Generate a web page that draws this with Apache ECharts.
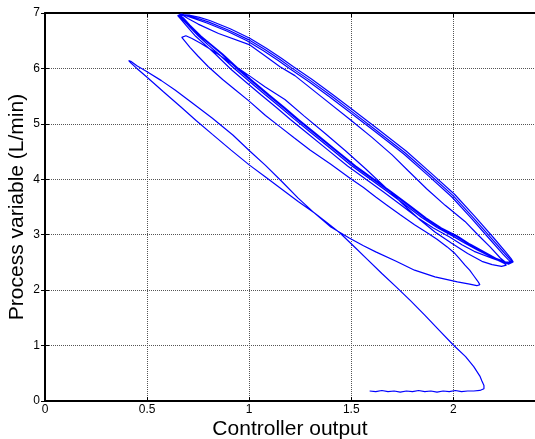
<!DOCTYPE html>
<html>
<head>
<meta charset="utf-8">
<script src="https://cdn.jsdelivr.net/npm/echarts@6/dist/echarts.min.js"></script>
<style>
  html, body { margin: 0; padding: 0; background: #fff; }
  #chart { width: 535px; height: 439px; }
</style>
</head>
<body>
<div id="chart"></div>
<script>
// Axis ticks and labels
const xTickValues = [0, 0.5, 1, 1.5, 2];
const xTickLabels = ['0', '0.5', '1', '1.5', '2'];
const yTickValues = [0, 1, 2, 3, 4, 5, 6, 7];
const yTickLabels = ['0', '1', '2', '3', '4', '5', '6', '7'];

// Trajectory pieces: [controller output, process variable (L/min)]
const startup = [[1.59,0.18],[1.62,0.17],[1.65,0.19],[1.68,0.17],[1.71,0.18],[1.74,0.16],[1.77,0.18],[1.80,0.17],[1.83,0.19],[1.86,0.17],[1.89,0.18],[1.92,0.16],[1.95,0.18],[1.98,0.17],[2.01,0.19],[2.04,0.17],[2.07,0.18],[2.10,0.18],[2.13,0.19],[2.15,0.22],[2.15,0.28]];

const firstRise = [[2.14,0.36],[2.13,0.45],[2.10,0.62],[2.06,0.80],[2.0,1.01],[1.93,1.28],[1.86,1.55],[1.79,1.81],[1.72,2.06],[1.65,2.30],[1.58,2.55],[1.51,2.80],[1.445,3.03],[1.38,3.22],[1.32,3.39],[1.24,3.60],[1.16,3.82],[1.08,4.04],[1.0,4.26],[0.91,4.53],[0.82,4.81],[0.74,5.06],[0.67,5.29],[0.58,5.58],[0.50,5.84],[0.45,6.0],[0.42,6.10],[0.41,6.14]];

const firstFall = [[0.42,6.13],[0.45,6.05],[0.50,5.94],[0.57,5.78],[0.637,5.61],[0.72,5.38],[0.82,5.10],[0.92,4.80],[1.0,4.52],[1.08,4.25],[1.16,3.96],[1.24,3.66],[1.32,3.39],[1.40,3.14],[1.49,2.94],[1.56,2.80],[1.62,2.69],[1.72,2.52],[1.81,2.36],[1.91,2.24],[2.02,2.15],[2.08,2.11],[2.115,2.08],[2.13,2.10]];

const secondRise = [[2.12,2.16],[2.10,2.26],[2.08,2.36],[2.057,2.45],[2.03,2.57],[2.008,2.66],[1.97,2.78],[1.92,2.92],[1.87,3.04],[1.81,3.18],[1.74,3.36],[1.68,3.52],[1.62,3.68],[1.56,3.85],[1.494,4.02],[1.40,4.27],[1.298,4.53],[1.22,4.75],[1.15,4.95],[1.08,5.15],[1.0,5.41],[0.93,5.62],[0.87,5.80],[0.80,6.03],[0.75,6.22],[0.71,6.38],[0.69,6.47],[0.67,6.56],[0.672,6.59]];

const secondFall = [[0.69,6.59],[0.72,6.54],[0.76,6.46],[0.80,6.37],[0.85,6.25],[0.92,6.07],[1.0,5.87],[1.077,5.67],[1.175,5.44],[1.27,5.14],[1.371,4.83],[1.47,4.52],[1.57,4.19],[1.66,3.88],[1.75,3.56],[1.836,3.27],[1.91,3.05],[1.99,2.85],[2.07,2.66],[2.14,2.52],[2.19,2.46],[2.236,2.43],[2.26,2.45]];

const cycleRise1 = [[2.25,2.48],[2.20,2.57],[2.12,2.72],[2.05,2.86],[2.0,2.97],[1.92,3.13],[1.845,3.31],[1.76,3.55],[1.673,3.79],[1.59,4.01],[1.50,4.25],[1.40,4.55],[1.30,4.85],[1.22,5.09],[1.15,5.31],[1.077,5.53],[1.0,5.77],[0.93,5.99],[0.85,6.26],[0.80,6.42],[0.75,6.59],[0.70,6.78],[0.67,6.90],[0.655,6.96],[0.665,6.98]];
const cycleFall1 = [[0.70,6.90],[0.75,6.80],[0.85,6.63],[1.0,6.43],[1.077,6.23],[1.151,6.03],[1.224,5.87],[1.35,5.50],[1.494,5.08],[1.60,4.76],[1.70,4.44],[1.78,4.15],[1.869,3.83],[1.96,3.53],[2.057,3.24],[2.12,3.0],[2.18,2.78],[2.23,2.58],[2.26,2.49],[2.285,2.50]];

const cycleRise2 = [[2.255,2.51],[2.205,2.58],[2.135,2.71],[2.075,2.83],[2.015,2.97],[1.935,3.12],[1.86,3.30],[1.775,3.54],[1.688,3.78],[1.605,4.00],[1.515,4.24],[1.415,4.54],[1.315,4.84],[1.235,5.08],[1.165,5.30],[1.092,5.52],[1.015,5.76],[0.945,5.98],[0.865,6.26],[0.812,6.42],[0.76,6.58],[0.706,6.78],[0.674,6.90],[0.658,6.96],[0.667,6.975]];
const cycleFall2 = [[0.70,6.955],[0.75,6.90],[0.80,6.84],[0.90,6.69],[0.996,6.52],[1.077,6.34],[1.151,6.16],[1.208,6.01],[1.30,5.78],[1.40,5.51],[1.50,5.23],[1.62,4.89],[1.763,4.48],[1.88,4.10],[2.0,3.70],[2.097,3.31],[2.19,2.92],[2.25,2.67],[2.277,2.56],[2.29,2.50]];

const cycleRise3 = [[2.262,2.48],[2.192,2.57],[2.102,2.70],[2.042,2.82],[1.982,2.96],[1.902,3.12],[1.827,3.30],[1.742,3.54],[1.655,3.78],[1.572,4.00],[1.482,4.24],[1.382,4.54],[1.282,4.84],[1.202,5.08],[1.132,5.30],[1.059,5.52],[0.982,5.76],[0.912,5.98],[0.834,6.26],[0.786,6.42],[0.738,6.58],[0.69,6.78],[0.663,6.90],[0.65,6.955],[0.662,6.97]];
const cycleFall3 = [[0.71,6.96],[0.757,6.92],[0.807,6.865],[0.907,6.715],[1.003,6.545],[1.084,6.365],[1.158,6.185],[1.215,6.035],[1.307,5.805],[1.407,5.535],[1.507,5.255],[1.627,4.915],[1.77,4.505],[1.887,4.125],[2.007,3.725],[2.104,3.335],[2.197,2.945],[2.256,2.69],[2.282,2.575],[2.293,2.51]];

const cycleRise4 = [[2.27,2.47],[2.215,2.56],[2.142,2.71],[2.082,2.83],[2.022,2.97],[1.942,3.12],[1.867,3.30],[1.782,3.54],[1.695,3.78],[1.612,4.00],[1.522,4.24],[1.422,4.54],[1.322,4.84],[1.242,5.08],[1.172,5.30],[1.099,5.52],[1.022,5.76],[0.952,5.98],[0.87,6.26],[0.818,6.42],[0.765,6.58],[0.71,6.78],[0.678,6.91],[0.66,6.965],[0.672,6.98]];
const cycleFall4 = [[0.69,6.95],[0.743,6.885],[0.793,6.82],[0.893,6.67],[0.989,6.50],[1.07,6.32],[1.144,6.14],[1.201,5.99],[1.293,5.76],[1.393,5.49],[1.493,5.21],[1.613,4.87],[1.756,4.46],[1.873,4.08],[1.993,3.68],[2.09,3.29],[2.183,2.90],[2.243,2.65],[2.27,2.545],[2.283,2.50]];

const trajectory = [].concat(
  startup, firstRise, firstFall, secondRise, secondFall,
  cycleRise1, cycleFall1, cycleRise2, cycleFall2,
  cycleRise3, cycleFall3, cycleRise4, cycleFall4
);

function labelFor(values, labels) {
  return function (v) {
    const i = values.findIndex(t => Math.abs(t - v) < 1e-9);
    return i >= 0 ? labels[i] : '';
  };
}

const FONT = '"Liberation Sans", Arial, Helvetica, sans-serif';
const gridLine = { show: true, lineStyle: { color: '#555555', width: 1, type: [1, 1] } };
const frame = { show: true, onZero: false, lineStyle: { color: '#000', width: 2 } };
const innerTick = { show: true, inside: true, length: 4, lineStyle: { color: '#000', width: 1 } };

const chart = echarts.init(document.getElementById('chart'), null, { renderer: 'canvas' });
chart.setOption({
  animation: false,
  backgroundColor: '#ffffff',
  grid: { left: 45, top: 13, right: 0, bottom: 38, containLabel: false, outerBoundsMode: 'none' },
  xAxis: [
    {
      type: 'value', position: 'bottom', min: 0, max: 2.4, interval: 0.5,
      name: 'Controller output', nameLocation: 'middle', nameGap: 18, nameMoveOverlap: false,
      nameTextStyle: { fontFamily: FONT, fontSize: 21, color: '#000' },
      axisLine: frame,
      axisTick: innerTick,
      axisLabel: { show: true, margin: 3, fontFamily: FONT, fontSize: 12, color: '#000',
                   showMaxLabel: false, formatter: labelFor(xTickValues, xTickLabels) },
      splitLine: gridLine
    },
    {
      type: 'value', position: 'top', min: 0, max: 2.4, interval: 0.5,
      axisLine: frame,
      axisTick: innerTick,
      axisLabel: { show: false },
      splitLine: { show: false }
    }
  ],
  yAxis: [
    {
      type: 'value', position: 'left', min: 0, max: 7, interval: 1,
      name: 'Process variable (L/min)', nameLocation: 'middle', nameGap: 17, nameMoveOverlap: false,
      nameTextStyle: { fontFamily: FONT, fontSize: 21, color: '#000' },
      axisLine: frame,
      axisTick: innerTick,
      axisLabel: { show: true, margin: 5, fontFamily: FONT, fontSize: 12, color: '#000',
                   formatter: labelFor(yTickValues, yTickLabels) },
      splitLine: gridLine
    },
    {
      type: 'value', position: 'right', min: 0, max: 7, interval: 1,
      axisLine: { show: false },
      axisTick: innerTick,
      axisLabel: { show: false },
      splitLine: { show: false }
    }
  ],
  series: [
    {
      type: 'line',
      xAxisIndex: 0,
      yAxisIndex: 0,
      data: trajectory,
      showSymbol: false,
      symbol: 'none',
      smooth: false,
      lineStyle: { color: '#0000ff', width: 1.2 },
      silent: true
    }
  ]
});
</script>
</body>
</html>
